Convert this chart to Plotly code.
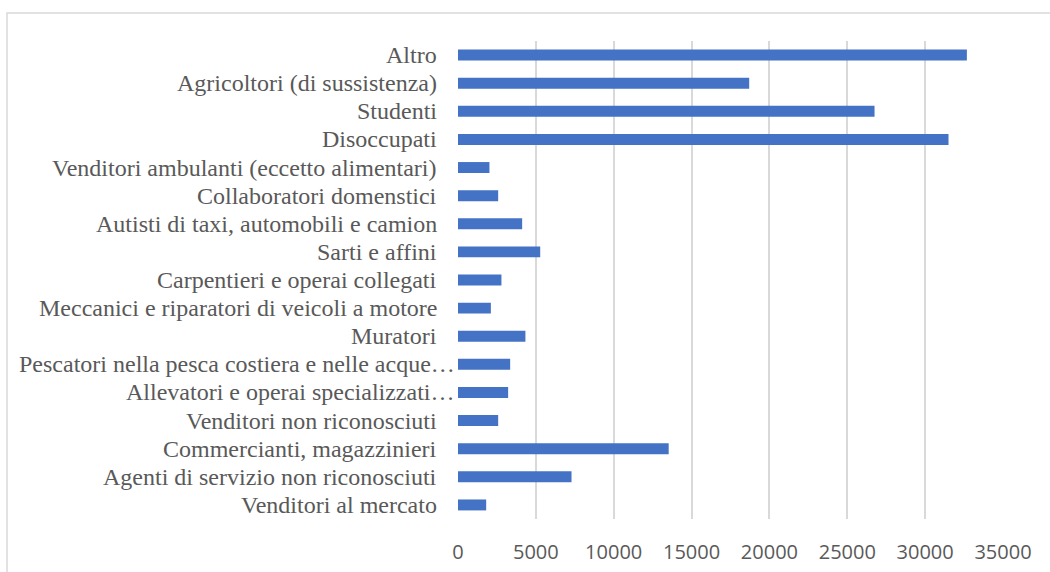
import plotly.graph_objects as go

# Occupational categories, listed bottom to top as they appear on the axis
categories = [
    "Venditori al mercato",
    "Agenti di servizio non riconosciuti",
    "Commercianti, magazzinieri",
    "Venditori non riconosciuti",
    "Allevatori e operai specializzati…",
    "Pescatori nella pesca costiera e nelle acque…",
    "Muratori",
    "Meccanici e riparatori di veicoli a motore",
    "Carpentieri e operai collegati",
    "Sarti e affini",
    "Autisti di taxi, automobili e camion",
    "Collaboratori domenstici",
    "Venditori ambulanti (eccetto alimentari)",
    "Disoccupati",
    "Studenti",
    "Agricoltori (di sussistenza)",
    "Altro",
]
values = [
    1810, 7290, 13530, 2580, 3220, 3350, 4330, 2110, 2790,
    5280, 4120, 2580, 2020, 31500, 26750, 18700, 32680,
]
x_ticks = [0, 5000, 10000, 15000, 20000, 25000, 30000, 35000]

W, H = 1050, 572
L, R, T, B = 458, 47, 41, 53
pw, ph = W - L - R, H - T - B

fig = go.Figure(
    go.Bar(
        x=values,
        y=categories,
        orientation="h",
        width=0.39,
        marker=dict(color="#4472C4", line=dict(width=0)),
        hoverinfo="x+y",
    )
)

# Category labels as right-aligned text beside the axis; truncated names sit closer
annotations = []
for cat in categories:
    annotations.append(
        dict(
            x=0, y=cat, xref="x", yref="y",
            text=cat, showarrow=False,
            xanchor="right", yanchor="middle",
            xshift=-1 if cat.endswith("…") else -19,
            font=dict(family="Liberation Serif, Times New Roman, serif", size=24, color="#595959"),
        )
    )

# Light frame around the chart area
frame = dict(
    type="rect", xref="paper", yref="paper",
    x0=(7 - L) / pw, x1=(W + 20 - L) / pw,
    y0=-(B + 20) / ph, y1=(H - B - 13) / ph,
    line=dict(color="#d9d9d9", width=1.5),
    fillcolor="rgba(0,0,0,0)", layer="below",
)

fig.update_layout(
    width=W, height=H,
    margin=dict(l=L, r=R, t=T, b=B, pad=0, autoexpand=False),
    paper_bgcolor="white", plot_bgcolor="white",
    showlegend=False,
    bargap=0.61,
    annotations=annotations,
    shapes=[frame],
    xaxis=dict(
        range=[0, 35000],
        tickvals=x_ticks,
        ticktext=[str(v) for v in x_ticks],
        showgrid=True, gridcolor="#d9d9d9", gridwidth=1.5,
        zeroline=False, showline=False, automargin=False,
        ticks="", ticklabelstandoff=19,
        tickfont=dict(family="Open Sans, sans-serif", size=20, color="#595959"),
        fixedrange=True,
    ),
    yaxis=dict(
        categoryorder="array", categoryarray=categories,
        range=[-0.5, len(categories) - 0.5],
        showticklabels=False, showgrid=False, automargin=False,
        zeroline=False, showline=False, ticks="",
        fixedrange=True,
    ),
)

fig.write_html("out.html")
